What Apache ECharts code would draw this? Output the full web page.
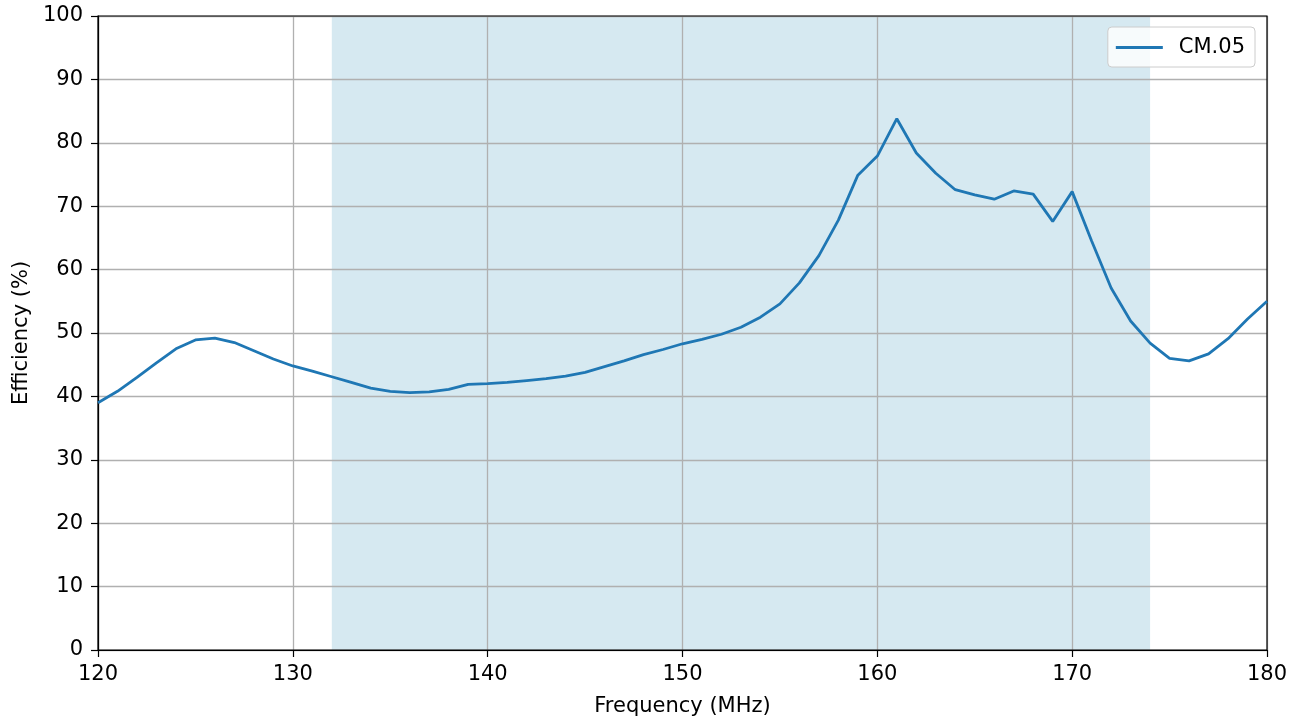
<!DOCTYPE html>
<html>
<head>
<meta charset="utf-8">
<script src="https://cdn.jsdelivr.net/npm/echarts@6/dist/echarts.min.js"></script>
<style>
html,body{margin:0;padding:0;background:#fff;}
#chart{width:1301px;height:722px;}
</style>
</head>
<body>
<div id="chart"></div>
<script>
const frequencies = [120,121,122,123,124,125,126,127,128,129,130,131,132,133,134,135,136,137,138,139,140,141,142,143,144,145,146,147,148,149,150,151,152,153,154,155,156,157,158,159,160,161,162,163,164,165,166,167,168,169,170,171,172,173,174,175,176,177,178,179,180];
const efficiency = [39.0,40.8,43.0,45.3,47.5,48.9,49.2,48.5,47.2,45.9,44.8,44.0,43.1,42.2,41.3,40.8,40.6,40.7,41.1,41.9,42.0,42.2,42.5,42.8,43.2,43.8,44.7,45.6,46.6,47.4,48.3,49.0,49.8,50.9,52.5,54.6,57.9,62.2,67.8,74.9,77.9,83.8,78.4,75.2,72.6,71.8,71.1,72.4,71.9,67.6,72.3,64.5,57.1,51.9,48.4,46.0,45.6,46.7,49.1,52.2,55.0];
const bandStart = 132;
const bandEnd = 174;
const seriesName = 'CM.05';

const chart = echarts.init(document.getElementById('chart'));
const font = 'DejaVu Sans';
const fs = 21;
chart.setOption({
  animation: false,
  backgroundColor: '#ffffff',
  grid: { left: 98, right: 34, top: 16, bottom: 72, show: true, borderColor: '#000', borderWidth: 1.2, backgroundColor: 'transparent', z: 3 },
  legend: {
    show: true, right: 46, top: 27,
    data: [{ name: seriesName, icon: 'rect' }],
    itemWidth: 47, itemHeight: 2.8,
    padding: [10, 10, 9, 8],
    backgroundColor: 'rgba(255,255,255,0.8)', borderColor: '#cccccc', borderWidth: 1, borderRadius: 4,
    textStyle: { fontFamily: font, fontSize: fs, color: '#000', padding: [0, 0, 0, 11] }
  },
  xAxis: {
    type: 'value', min: 120, max: 180, interval: 10, z: 2,
    name: 'Frequency (MHz)', nameLocation: 'middle', nameGap: 46,
    nameTextStyle: { fontFamily: font, fontSize: fs, color: '#000' },
    axisLine: { show: true, lineStyle: { color: '#000', width: 1.2 } },
    axisTick: { show: true, inside: false, length: 7, lineStyle: { color: '#000', width: 1.2 } },
    axisLabel: { fontFamily: font, fontSize: fs, color: '#000', margin: 14 },
    splitLine: { show: true, lineStyle: { color: '#b0b0b0', width: 1.3 } }
  },
  yAxis: {
    type: 'value', min: 0, max: 100, interval: 10, z: 2,
    name: 'Efficiency (%)', nameLocation: 'middle', nameGap: 65, nameRotate: 90,
    nameTextStyle: { fontFamily: font, fontSize: fs, color: '#000' },
    axisLine: { show: true, lineStyle: { color: '#000', width: 1.2 } },
    axisTick: { show: true, inside: false, length: 7, lineStyle: { color: '#000', width: 1.2 } },
    axisLabel: { fontFamily: font, fontSize: fs, color: '#000', margin: 15 },
    splitLine: { show: true, lineStyle: { color: '#b0b0b0', width: 1.3 } }
  },
  series: [{
    name: 'band', type: 'line', data: [], z: 1, silent: true,
    markArea: {
      silent: true, z: 1,
      itemStyle: { color: '#d6e9f1' },
      data: [[{ xAxis: bandStart }, { xAxis: bandEnd }]]
    }
  }, {
    name: seriesName, type: 'line',
    data: frequencies.map((f, i) => [f, efficiency[i]]),
    showSymbol: false, smooth: false,
    lineStyle: { color: '#1f77b4', width: 2.8 },
    itemStyle: { color: '#1f77b4' },
    z: 5
  }]
});
</script>
</body>
</html>
